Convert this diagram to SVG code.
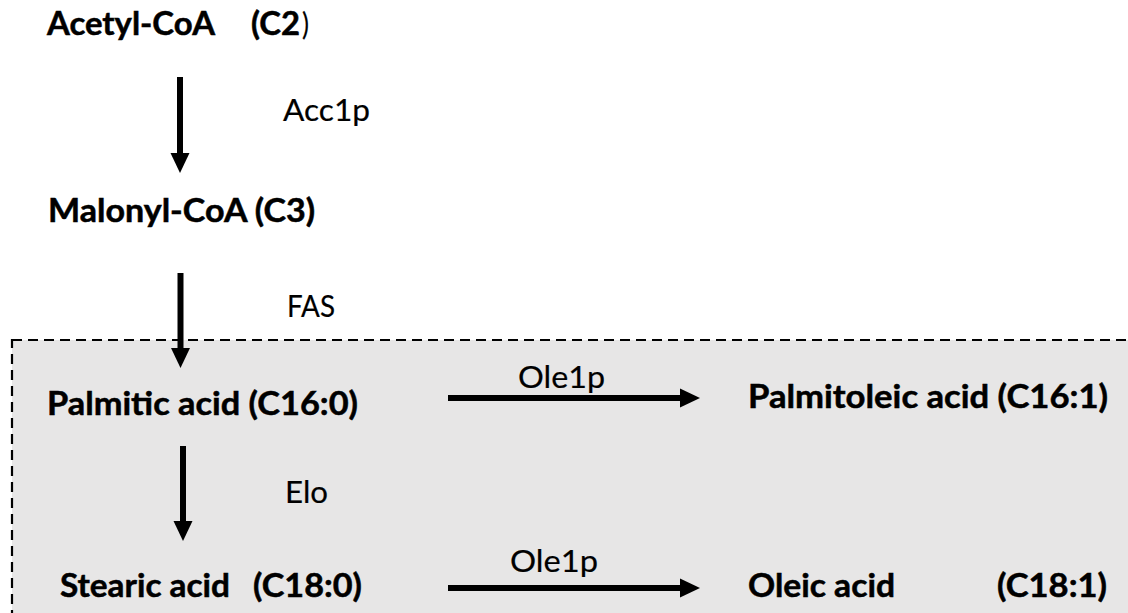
<svg xmlns="http://www.w3.org/2000/svg" width="1128" height="613" viewBox="0 0 1128 613">
  <style>
    .b { font-family: Lato, "Liberation Sans", sans-serif; font-weight: bold; font-size: 31.5px; fill: #000; stroke: #000; stroke-width: 0.5px; }
    .r { font-family: Lato, "Liberation Sans", sans-serif; font-weight: normal; font-size: 31.5px; fill: #000; stroke: #000; stroke-width: 0.2px; }
    .shaft { stroke: #000; stroke-width: 6; fill: none; }
  </style>
  <defs>
    <marker id="ah" markerUnits="userSpaceOnUse" markerWidth="20" markerHeight="20" refX="0" refY="9.5" orient="auto" viewBox="0 0 20 19">
      <path d="M0,0 L20,9.5 L0,19 Z" fill="#000"/>
    </marker>
    <clipPath id="bottomclip"><rect x="0" y="0" width="1128" height="605"/></clipPath>
  </defs>
  <rect width="1128" height="613" fill="#fff"/>
  <g id="region">
    <rect x="12" y="340" width="1130" height="290" fill="#e7e6e6" stroke="#000" stroke-width="2.2" stroke-dasharray="10,6"/>
  </g>
  <g id="connectors">
    <path class="shaft" d="M180,77 V153" marker-end="url(#ah)"/>
    <path class="shaft" d="M180.5,273 V348" marker-end="url(#ah)"/>
    <path class="shaft" d="M183,446 V521" marker-end="url(#ah)"/>
    <path class="shaft" d="M448,398 H680" marker-end="url(#ah)"/>
    <path class="shaft" d="M448,588 H680" marker-end="url(#ah)"/>
    <text class="r" x="283" y="121" textLength="87" lengthAdjust="spacingAndGlyphs">Acc1p</text>
    <text class="r" x="287" y="317" textLength="48" lengthAdjust="spacingAndGlyphs">FAS</text>
    <text class="r" x="285" y="503" textLength="43" lengthAdjust="spacingAndGlyphs">Elo</text>
    <text class="r" x="518" y="388" textLength="87" lengthAdjust="spacingAndGlyphs">Ole1p</text>
    <text class="r" x="510" y="572" textLength="88" lengthAdjust="spacingAndGlyphs">Ole1p</text>
  </g>
  <g id="acetyl">
    <text class="b" x="47" y="35" textLength="168" lengthAdjust="spacingAndGlyphs">Acetyl-CoA</text>
    <text class="b" x="251" y="35" textLength="49" lengthAdjust="spacingAndGlyphs">(C2</text>
    <text class="r" x="302" y="35" textLength="7" lengthAdjust="spacingAndGlyphs">)</text>
  </g>
  <g id="malonyl">
    <text class="b" x="48" y="222" textLength="267" lengthAdjust="spacingAndGlyphs">Malonyl-CoA (C3)</text>
  </g>
  <g id="palmitic">
    <text class="b" x="47" y="415" textLength="311" lengthAdjust="spacingAndGlyphs">Palmitic acid (C16:0)</text>
  </g>
  <g id="palmitoleic">
    <text class="b" x="748" y="408" textLength="360" lengthAdjust="spacingAndGlyphs">Palmitoleic acid (C16:1)</text>
  </g>
  <g id="stearic" clip-path="url(#bottomclip)">
    <text class="b" x="60" y="597" textLength="170" lengthAdjust="spacingAndGlyphs">Stearic acid</text>
    <text class="b" x="253" y="597" textLength="109" lengthAdjust="spacingAndGlyphs">(C18:0)</text>
  </g>
  <g id="oleic" clip-path="url(#bottomclip)">
    <text class="b" x="748" y="597" textLength="147" lengthAdjust="spacingAndGlyphs">Oleic acid</text>
    <text class="b" x="997" y="597" textLength="110" lengthAdjust="spacingAndGlyphs">(C18:1)</text>
  </g>
</svg>
